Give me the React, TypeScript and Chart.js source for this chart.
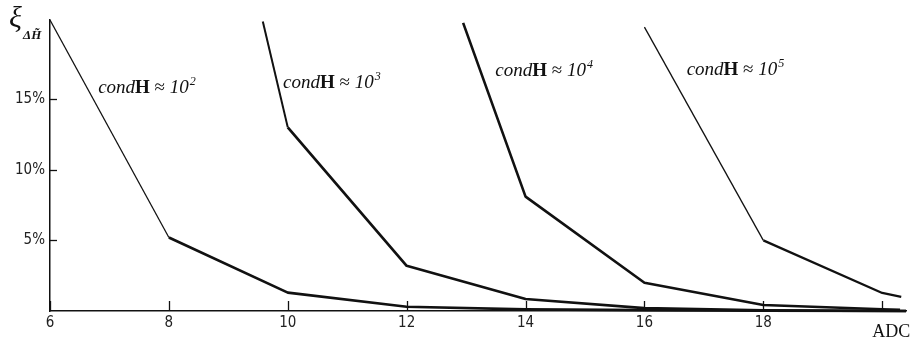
import React, { useEffect, useRef } from 'react';
import { Chart, registerables } from 'chart.js';

Chart.register(...registerables);

// ---- data ----
const xTicks = [6, 8, 10, 12, 14, 16, 18, 20];
const xTickLabels = ['6', '8', '10', '12', '14', '16', '18', 'ADC'];
const yTicks = [5, 10, 15];
const yTickLabels = ['5%', '10%', '15%'];

const curve1X = [6, 8, 10, 12, 14, 16, 18, 20.4];
const curve1Y = [20.6, 5.2, 1.3, 0.3, 0.12, 0.06, 0.03, 0.0];
const curve2X = [9.58, 10, 12, 14, 16, 18, 20.4];
const curve2Y = [20.5, 13.0, 3.2, 0.85, 0.2, 0.05, 0.0];
const curve3X = [12.95, 14, 16, 18, 20, 20.3];
const curve3Y = [20.4, 8.1, 2.0, 0.43, 0.12, 0.08];
const curve4X = [16, 18, 20, 20.32];
const curve4Y = [20.1, 5.0, 1.28, 1.0];

const labelExp = ['2', '3', '4', '5'];
const labelX = [6.81, 9.92, 13.49, 16.71];
const labelY = [15.46, 15.82, 16.67, 16.74];

const xMin = 6;
const xMax = 20.4;
const yMin = 0;
const yMax = 20.6;

// ---- styles ----
const firstWidths = [1.3, 2.0, 2.6, 1.3];
const restWidths = [2.7, 2.7, 2.6, 2.2];
const NARROW = '"Liberation Sans Narrow", "Arial Narrow", "DejaVu Sans Condensed", "Liberation Sans", sans-serif';
const SERIF = '"Liberation Serif", "DejaVu Serif", serif';

const curves = [
  [curve1X, curve1Y],
  [curve2X, curve2Y],
  [curve3X, curve3Y],
  [curve4X, curve4Y],
];

const decorPlugin = {
  id: 'decor',
  afterDraw(chart: any) {
    const ctx = chart.ctx;
    const xs = chart.scales.x;
    const ys = chart.scales.y;
    const { left, bottom } = chart.chartArea;
    ctx.save();
    ctx.strokeStyle = '#111';
    ctx.lineWidth = 1.3;
    // inner tick marks
    yTicks.forEach((v) => {
      const py = Math.round(ys.getPixelForValue(v)) + 0.5;
      ctx.beginPath();
      ctx.moveTo(left, py);
      ctx.lineTo(left + 7, py);
      ctx.stroke();
    });
    xTicks.forEach((v) => {
      const px = Math.round(xs.getPixelForValue(v)) + 0.5;
      ctx.beginPath();
      ctx.moveTo(px, bottom);
      ctx.lineTo(px, bottom - 10);
      ctx.stroke();
    });

    // ADC label
    ctx.fillStyle = '#111';
    ctx.font = `18px ${SERIF}`;
    ctx.textAlign = 'left';
    ctx.textBaseline = 'alphabetic';
    const adcX = xs.getPixelForValue(xTicks[xTicks.length - 1]);
    ctx.fillText(xTickLabels[xTickLabels.length - 1], adcX - 10, bottom + 26);

    // axis title xi_{ΔH~}
    ctx.font = `italic 30px ${SERIF}`;
    ctx.fillText('ξ', 9, 27);
    ctx.font = `italic bold 13px ${SERIF}`;
    ctx.fillText('ΔH\u0303', 23, 39);

    // annotations
    for (let i = 0; i < labelX.length; i++) {
      let x = xs.getPixelForValue(labelX[i]);
      const y = ys.getPixelForValue(labelY[i]);
      ctx.font = `italic 19px ${SERIF}`;
      ctx.fillText('cond', x, y);
      x += ctx.measureText('cond').width;
      ctx.font = `bold 19px ${SERIF}`;
      ctx.fillText('H', x, y);
      x += ctx.measureText('H').width;
      ctx.font = `19px ${SERIF}`;
      ctx.fillText(' ≈ ', x, y);
      x += ctx.measureText(' ≈ ').width;
      ctx.font = `italic 19px ${SERIF}`;
      ctx.fillText('10', x, y);
      x += ctx.measureText('10').width + 1;
      ctx.font = `italic 12px ${SERIF}`;
      ctx.fillText(labelExp[i], x, y - 8);
    }
    ctx.restore();
  },
};

export default function App() {
  const ref = useRef<HTMLCanvasElement | null>(null);

  useEffect(() => {
    if (!ref.current) return;
    const datasets = curves.map(([xs, ys], i) => ({
      data: xs.map((x, j) => ({ x, y: ys[j] })),
      borderColor: '#111',
      borderWidth: restWidths[i],
      borderJoinStyle: 'round' as const,
      pointRadius: 0,
      tension: 0,
      fill: false,
      clip: false as any,
      segment: {
        borderWidth: (c: any) => (c.p0DataIndex === 0 ? firstWidths[i] : restWidths[i]),
      },
    }));

    const chart = new Chart(ref.current, {
      type: 'line',
      data: { datasets },
      plugins: [decorPlugin],
      options: {
        animation: false,
        responsive: false,
        devicePixelRatio: 1,
        layout: { padding: { top: 20, right: 5, left: 0, bottom: 0 } },
        plugins: { legend: { display: false }, tooltip: { enabled: false } },
        scales: {
          x: {
            type: 'linear',
            min: xMin,
            max: xMax,
            afterBuildTicks: (s: any) => {
              s.ticks = xTicks.map((v) => ({ value: v }));
            },
            afterFit: (s: any) => {
              s.height = 34;
            },
            grid: { display: false, drawTicks: false },
            border: { display: true, color: '#111', width: 1.5 },
            ticks: {
              padding: 3,
              maxRotation: 0,
              autoSkip: false,
              color: '#222',
              font: { family: NARROW, size: 15 },
              callback: (v: any) => {
                const idx = xTicks.indexOf(Number(v));
                if (idx === xTicks.length - 1) return '';
                return idx >= 0 ? xTickLabels[idx] : '';
              },
            },
          },
          y: {
            type: 'linear',
            min: yMin,
            max: yMax,
            afterBuildTicks: (s: any) => {
              s.ticks = yTicks.map((v) => ({ value: v }));
            },
            afterFit: (s: any) => {
              s.width = 50;
            },
            grid: { display: false, drawTicks: false },
            border: { display: true, color: '#111', width: 1.5 },
            ticks: {
              padding: 5,
              color: '#222',
              font: { family: NARROW, size: 15 },
              callback: (v: any) => {
                const idx = yTicks.indexOf(Number(v));
                return idx >= 0 ? yTickLabels[idx] : '';
              },
            },
          },
        },
      },
    });
    return () => chart.destroy();
  }, []);

  return (
    <div style={{ position: 'fixed', left: 0, top: 0, width: 911, height: 345, background: '#fff' }}>
      <canvas ref={ref} width={911} height={345} style={{ width: 911, height: 345 }} />
    </div>
  );
}
